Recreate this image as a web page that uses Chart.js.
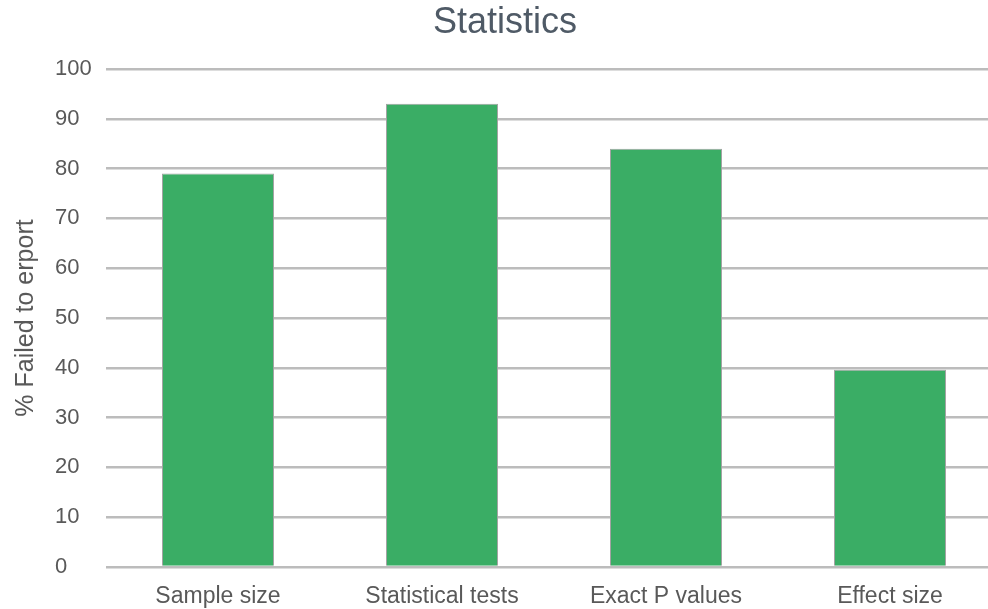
<!DOCTYPE html>
<html>
<head>
<meta charset="utf-8">
<script src="https://cdn.jsdelivr.net/npm/chart.js@4"></script>
<style>
  html, body { margin: 0; padding: 0; background: #fff; overflow: hidden; }
  #wrap { width: 988px; height: 609px; overflow: hidden; }
</style>
</head>
<body>
<div id="wrap"><canvas id="canvas" width="1006" height="609"></canvas></div>
<script>
const categories = ['Sample size', 'Statistical tests', 'Exact P values', 'Effect size'];
const failedPct = [79, 93, 84, 39.6];
const yTicks = [0, 10, 20, 30, 40, 50, 60, 70, 80, 90, 100];

const textGrey = '#595959';
const fontFam = '"Liberation Sans", Arial, sans-serif';

// title and y axis title drawn by hand: the plot runs past the right edge,
// so the built-in title would not be centred where the original is
const labels = {
  id: 'labels',
  afterDraw(chart) {
    const c = chart.ctx, a = chart.chartArea;
    c.save();
    c.font = '36px ' + fontFam;
    c.fillStyle = '#4f5a66';
    c.textAlign = 'center';
    c.textBaseline = 'alphabetic';
    c.fillText('Statistics', 505, 33);

    c.translate(33, (a.top + a.bottom) / 2);
    c.rotate(-Math.PI / 2);
    c.font = '25px ' + fontFam;
    c.fillStyle = textGrey;
    c.fillText('% Failed to erport', 0, 0);
    c.restore();
  }
};

const ctx = document.getElementById('canvas').getContext('2d');
new Chart(ctx, {
  type: 'bar',
  data: {
    labels: categories,
    datasets: [{
      label: '% Failed to erport',
      data: failedPct,
      backgroundColor: '#3aad65',
      borderColor: '#a3a3a3',
      borderWidth: 1,
      categoryPercentage: 1,
      barPercentage: 0.5
    }]
  },
  options: {
    responsive: false,
    animation: false,
    layout: { padding: { left: 55, right: 4, top: 69, bottom: 0 } },
    plugins: {
      legend: { display: false },
      tooltip: { enabled: false },
      title: { display: false }
    },
    scales: {
      x: {
        grid: { display: false },
        border: { display: false },
        ticks: {
          color: textGrey,
          font: { family: fontFam, size: 23 },
          padding: 8
        },
        afterFit(s) { s.height = 42; }
      },
      y: {
        min: 0,
        max: 100,
        afterBuildTicks(s) { s.ticks = yTicks.map(v => ({ value: v })); },
        grid: { color: '#bcbcbc', lineWidth: 2.5, drawTicks: false },
        border: { display: false },
        ticks: {
          color: textGrey,
          crossAlign: 'far',
          font: { family: fontFam, size: 22 }
        },
        afterFit(s) { s.width = 51; }
      }
    }
  },
  plugins: [labels]
});
</script>
</body>
</html>
